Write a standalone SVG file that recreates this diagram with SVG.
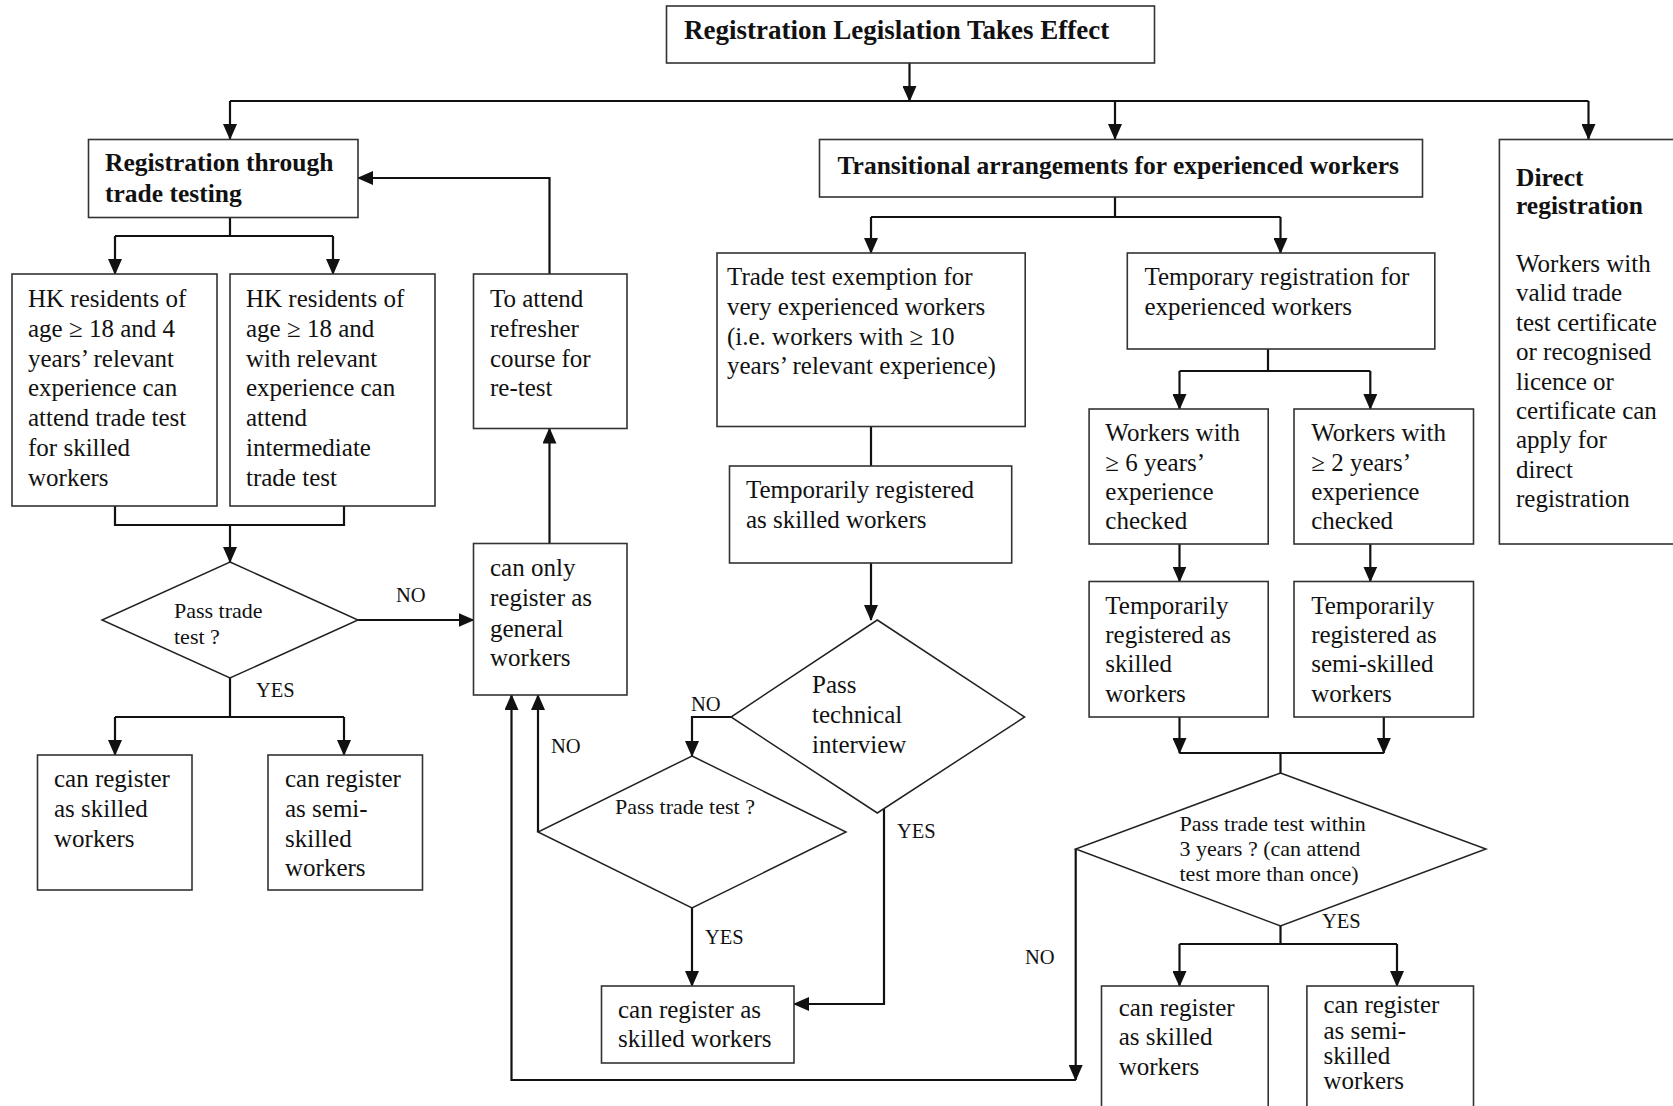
<svg xmlns="http://www.w3.org/2000/svg" width="1673" height="1106" viewBox="0 0 1673 1106">
<defs>
<style>
.box{fill:#fff;stroke:#333;stroke-width:1.6}
.dia{fill:#fff;stroke:#222;stroke-width:1.5}
.t{font-family:"Liberation Serif","Times New Roman",serif;font-size:25px;fill:#111}
.b{font-family:"Liberation Serif","Times New Roman",serif;font-size:25.5px;font-weight:bold;fill:#111}
.ti{font-family:"Liberation Serif","Times New Roman",serif;font-size:27px;font-weight:bold;fill:#111}
.d{font-family:"Liberation Serif","Times New Roman",serif;font-size:22px;fill:#111}
.lb{font-family:"Liberation Serif","Times New Roman",serif;font-size:20.5px;fill:#111}
.c{fill:none;stroke:#111;stroke-width:2.2}
.ca{fill:none;stroke:#111;stroke-width:2.2;marker-end:url(#ah)}
</style>
<marker id="ah" markerWidth="16" markerHeight="14" refX="15" refY="7" orient="auto" markerUnits="userSpaceOnUse">
<path d="M0,0 L16,7 L0,14 z" fill="#111"/>
</marker>
</defs>
<rect width="1673" height="1106" fill="#fff"/>

<g id="connectors">
<path class="ca" d="M909.5,63 V101"/>
<path class="c" d="M230,101 H1588.5"/>
<path class="ca" d="M230,101 V139"/>
<path class="ca" d="M1115,101 V139"/>
<path class="ca" d="M1588.5,101 V139"/>
<path class="c" d="M230,218 V236 M115,236 H333"/>
<path class="ca" d="M115,236 V274"/>
<path class="ca" d="M333,236 V274"/>
<path class="ca" d="M549.5,274 V178 H358"/>
<path class="c" d="M115,506 V525 H344 V506"/>
<path class="ca" d="M230,525 V562"/>
<path class="ca" d="M358,620 H473.5"/>
<path class="ca" d="M549.5,543.5 V428.5"/>
<path class="c" d="M230,678 V717 M115,717 H344"/>
<path class="ca" d="M115,717 V755"/>
<path class="ca" d="M344,717 V755"/>
<path class="c" d="M1115,197 V217 M871,217 H1280.5"/>
<path class="ca" d="M871,217 V253"/>
<path class="ca" d="M1280.5,217 V253"/>
<path class="c" d="M871,426.5 V466"/>
<path class="ca" d="M871,563 V620"/>
<path class="ca" d="M731,717 H692 V756"/>
<path class="ca" d="M538,832 V695"/>
<path class="ca" d="M692,908 V986"/>
<path class="ca" d="M884,809 V1004 H794"/>
<path class="ca" d="M1075.7,849 V1080"/>
<path class="ca" d="M1075.7,1080 H511.5 V695"/>
<path class="c" d="M1268,349 V371 M1179.5,371 H1370.3"/>
<path class="ca" d="M1179.5,371 V409"/>
<path class="ca" d="M1370.3,371 V409"/>
<path class="ca" d="M1179.5,544 V581.5"/>
<path class="ca" d="M1370.3,544 V581.5"/>
<path class="ca" d="M1179.5,717 V753"/>
<path class="ca" d="M1383.8,717 V753"/>
<path class="c" d="M1179.5,753 H1383.8 M1280.5,753 V773"/>
<path class="c" d="M1280.5,926 V944 M1179.5,944 H1397"/>
<path class="ca" d="M1179.5,944 V986"/>
<path class="ca" d="M1397,944 V986"/>
<text class="lb" x="396" y="602">NO</text>
<text class="lb" x="256" y="697">YES</text>
<text class="lb" x="691" y="711">NO</text>
<text class="lb" x="551" y="753">NO</text>
<text class="lb" x="705" y="944">YES</text>
<text class="lb" x="897" y="838">YES</text>
<text class="lb" x="1025" y="964">NO</text>
<text class="lb" x="1322" y="928">YES</text>
</g>

<g id="n-title">
<rect class="box" x="666.5" y="6" width="488" height="57"/>
<text class="ti" x="684" y="39">Registration Legislation Takes Effect</text>
</g>

<g id="n-trade-testing">
<rect class="box" x="88.5" y="139.5" width="269.5" height="78"/>
<text class="b" x="105" y="171">Registration through</text>
<text class="b" x="105" y="202">trade testing</text>
</g>

<g id="n-transitional">
<rect class="box" x="819.5" y="139.5" width="603" height="57.5"/>
<text class="b" x="837.5" y="174">Transitional arrangements for experienced workers</text>
</g>

<g id="n-direct">
<rect class="box" x="1499.4" y="139.5" width="200" height="404.5"/>
<text class="b" x="1516" y="186">Direct</text>
<text class="b" x="1516" y="214">registration</text>
<text class="t" x="1516" y="272">Workers with</text>
<text class="t" x="1516" y="301.4">valid trade</text>
<text class="t" x="1516" y="330.8">test certificate</text>
<text class="t" x="1516" y="360.2">or recognised</text>
<text class="t" x="1516" y="389.6">licence or</text>
<text class="t" x="1516" y="419">certificate can</text>
<text class="t" x="1516" y="448.4">apply for</text>
<text class="t" x="1516" y="477.8">direct</text>
<text class="t" x="1516" y="507.2">registration</text>
</g>

<g id="n-hk4">
<rect class="box" x="12" y="274" width="205" height="232"/>
<text class="t" x="28" y="307">HK residents of</text>
<text class="t" x="28" y="336.8">age ≥ 18 and 4</text>
<text class="t" x="28" y="366.6">years’ relevant</text>
<text class="t" x="28" y="396.4">experience can</text>
<text class="t" x="28" y="426.2">attend trade test</text>
<text class="t" x="28" y="456">for skilled</text>
<text class="t" x="28" y="485.8">workers</text>
</g>

<g id="n-hk-inter">
<rect class="box" x="230" y="274" width="205" height="232"/>
<text class="t" x="246" y="307">HK residents of</text>
<text class="t" x="246" y="336.8">age ≥ 18 and</text>
<text class="t" x="246" y="366.6">with relevant</text>
<text class="t" x="246" y="396.4">experience can</text>
<text class="t" x="246" y="426.2">attend</text>
<text class="t" x="246" y="456">intermediate</text>
<text class="t" x="246" y="485.8">trade test</text>
</g>

<g id="n-refresher">
<rect class="box" x="473.5" y="274" width="153.5" height="154.5"/>
<text class="t" x="490" y="307">To attend</text>
<text class="t" x="490" y="336.8">refresher</text>
<text class="t" x="490" y="366.6">course for</text>
<text class="t" x="490" y="396.4">re-test</text>
</g>

<g id="n-pass1">
<polygon class="dia" points="230,562 358,620 230,678 102,620"/>
<text class="d" x="174" y="618">Pass trade</text>
<text class="d" x="174" y="644">test ?</text>
</g>

<g id="n-general">
<rect class="box" x="473.5" y="543.5" width="153.5" height="151.5"/>
<text class="t" x="490" y="576">can only</text>
<text class="t" x="490" y="606">register as</text>
<text class="t" x="490" y="636.5">general</text>
<text class="t" x="490" y="666">workers</text>
</g>

<g id="n-skilled1">
<rect class="box" x="37.5" y="755" width="154.5" height="135"/>
<text class="t" x="54" y="787">can register</text>
<text class="t" x="54" y="817">as skilled</text>
<text class="t" x="54" y="847">workers</text>
</g>

<g id="n-semi1">
<rect class="box" x="268" y="755" width="154.5" height="135"/>
<text class="t" x="285" y="787">can register</text>
<text class="t" x="285" y="817">as semi-</text>
<text class="t" x="285" y="847">skilled</text>
<text class="t" x="285" y="876">workers</text>
</g>

<g id="n-exemption">
<rect class="box" x="717" y="253" width="308.2" height="173.5"/>
<text class="t" x="727" y="285">Trade test exemption for</text>
<text class="t" x="727" y="315">very experienced workers</text>
<text class="t" x="727" y="345">(i.e. workers with ≥ 10</text>
<text class="t" x="727" y="374">years’ relevant experience)</text>
</g>

<g id="n-temp-skilled-mid">
<rect class="box" x="729.5" y="466" width="282.2" height="97"/>
<text class="t" x="746" y="498">Temporarily registered</text>
<text class="t" x="746" y="528">as skilled workers</text>
</g>

<g id="n-tech">
<polygon class="dia" points="877.3,620 1024.6,717 877.3,813 731,717"/>
<text class="t" x="812" y="693">Pass</text>
<text class="t" x="812" y="723">technical</text>
<text class="t" x="812" y="753">interview</text>
</g>

<g id="n-pass2">
<polygon class="dia" points="692,756 846,832 692,908 538,832"/>
<text class="d" x="615" y="814">Pass trade test ?</text>
</g>

<g id="n-skilled-mid">
<rect class="box" x="601.5" y="986" width="192.5" height="77"/>
<text class="t" x="618" y="1018">can register as</text>
<text class="t" x="618" y="1047">skilled workers</text>
</g>

<g id="n-temp-reg">
<rect class="box" x="1127.3" y="253" width="307.5" height="96"/>
<text class="t" x="1144.5" y="285">Temporary registration for</text>
<text class="t" x="1144.5" y="315">experienced workers</text>
</g>

<g id="n-w6">
<rect class="box" x="1089.1" y="409" width="179.1" height="135"/>
<text class="t" x="1105.3" y="441">Workers with</text>
<text class="t" x="1105.3" y="471">≥ 6 years’</text>
<text class="t" x="1105.3" y="500">experience</text>
<text class="t" x="1105.3" y="529">checked</text>
</g>

<g id="n-w2">
<rect class="box" x="1294" y="409" width="179.5" height="135"/>
<text class="t" x="1311.2" y="441">Workers with</text>
<text class="t" x="1311.2" y="471">≥ 2 years’</text>
<text class="t" x="1311.2" y="500">experience</text>
<text class="t" x="1311.2" y="529">checked</text>
</g>

<g id="n-ts">
<rect class="box" x="1089.1" y="581.5" width="179.1" height="135.5"/>
<text class="t" x="1105.3" y="614">Temporarily</text>
<text class="t" x="1105.3" y="643">registered as</text>
<text class="t" x="1105.3" y="672">skilled</text>
<text class="t" x="1105.3" y="702">workers</text>
</g>

<g id="n-tss">
<rect class="box" x="1294" y="581.5" width="179.5" height="135.5"/>
<text class="t" x="1311.2" y="614">Temporarily</text>
<text class="t" x="1311.2" y="643">registered as</text>
<text class="t" x="1311.2" y="672">semi-skilled</text>
<text class="t" x="1311.2" y="702">workers</text>
</g>

<g id="n-pass3">
<polygon class="dia" points="1280.5,773 1485.9,849 1280.5,926 1075.7,849"/>
<text class="d" x="1179.5" y="831">Pass trade test within</text>
<text class="d" x="1179.5" y="856">3 years ? (can attend</text>
<text class="d" x="1179.5" y="881">test more than once)</text>
</g>

<g id="n-skilled3">
<rect class="box" x="1101.5" y="986" width="166.7" height="130"/>
<text class="t" x="1118.7" y="1016">can register</text>
<text class="t" x="1118.7" y="1045">as skilled</text>
<text class="t" x="1118.7" y="1075">workers</text>
</g>

<g id="n-semi3">
<rect class="box" x="1306.9" y="986" width="166.6" height="130"/>
<text class="t" x="1323.5" y="1013">can register</text>
<text class="t" x="1323.5" y="1039">as semi-</text>
<text class="t" x="1323.5" y="1064">skilled</text>
<text class="t" x="1323.5" y="1089">workers</text>
</g>
</svg>
